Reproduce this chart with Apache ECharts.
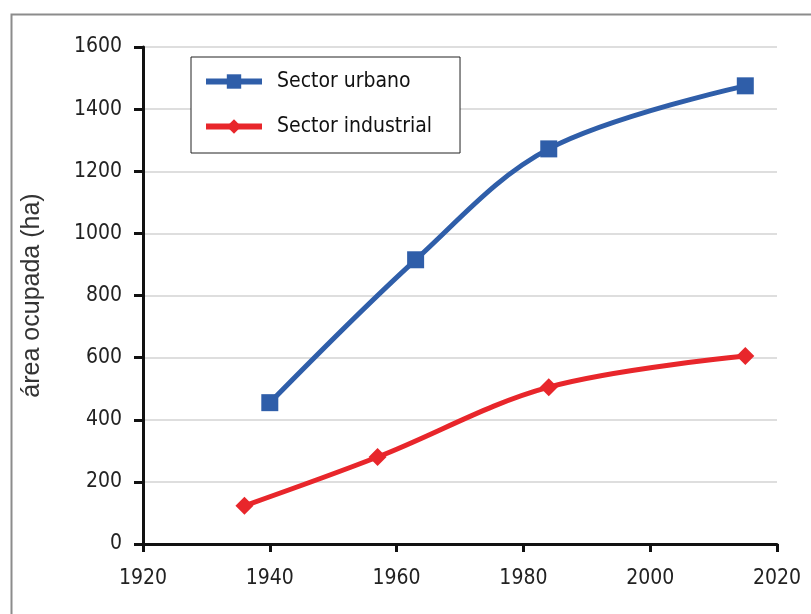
<!DOCTYPE html>
<html>
<head>
<meta charset="utf-8">
<script src="https://cdn.jsdelivr.net/npm/echarts@6/dist/echarts.min.js"></script>
<style>
  html, body { margin: 0; padding: 0; background: #fff; }
  #chart { width: 811px; height: 614px; }
</style>
</head>
<body>
<div id="chart"></div>
<script>
// Occupied area (ha) by sector over time
const urbanYears = [1940, 1963, 1984, 2015];
const urbanArea = [455, 915, 1272, 1475];
const industrialYears = [1936, 1957, 1984, 2015];
const industrialArea = [123, 280, 505, 605];
const seriesNames = ['Sector urbano', 'Sector industrial'];
const yAxisTitle = 'área ocupada (ha)';

const tickFont = "'Liberation Sans Narrow', 'DejaVu Sans Condensed', 'Liberation Sans', sans-serif";
const plain = v => String(v);

const chart = echarts.init(document.getElementById('chart'), null, { renderer: 'canvas' });

chart.setOption({
  animation: false,
  backgroundColor: '#ffffff',
  graphic: [{
    type: 'rect',
    left: 9, top: 12,
    shape: { x: 0, y: 0, width: 900, height: 700 },
    style: { fill: 'none', stroke: '#8c8c8c', lineWidth: 2 },
    z: -1
  }],
  grid: { left: 143, right: 34, top: 47, bottom: 70, containLabel: false },
  legend: {
    left: 191, top: 57,
    orient: 'vertical',
    backgroundColor: '#fff',
    borderColor: '#222',
    borderWidth: 1,
    padding: [14, 28, 16, 12],
    itemGap: 24,
    itemWidth: 56,
    itemHeight: 18,
    lineStyle: { width: 6 },
    textStyle: { fontFamily: tickFont, fontSize: 21, color: '#111', padding: [0, 0, 0, 10] },
    data: seriesNames
  },
  xAxis: {
    type: 'value', min: 1920, max: 2020, interval: 20,
    axisLine: { show: true, lineStyle: { color: '#111', width: 3 } },
    axisTick: { show: true, length: 8, lineStyle: { color: '#111', width: 3 } },
    axisLabel: { fontFamily: tickFont, fontSize: 21, color: '#222', margin: 24, formatter: plain },
    splitLine: { show: false }
  },
  yAxis: {
    type: 'value', min: 0, max: 1600, interval: 200,
    name: yAxisTitle,
    nameLocation: 'middle',
    nameGap: 98,
    nameTextStyle: { fontFamily: "'Liberation Sans', Arial, sans-serif", fontSize: 25, color: '#333' },
    axisLine: { show: true, lineStyle: { color: '#111', width: 3 } },
    axisTick: { show: true, length: 9, lineStyle: { color: '#111', width: 3 } },
    axisLabel: { fontFamily: tickFont, fontSize: 21, color: '#222', margin: 21, formatter: plain },
    splitLine: { show: true, lineStyle: { color: '#dedede', width: 2 } }
  },
  series: [
    {
      name: seriesNames[0],
      type: 'line',
      smooth: 0.35,
      data: urbanYears.map((y, i) => [y, urbanArea[i]]),
      symbol: 'rect',
      symbolSize: 17,
      lineStyle: { color: '#2f5ea9', width: 5 },
      itemStyle: { color: '#2f5ea9' },
      z: 3
    },
    {
      name: seriesNames[1],
      type: 'line',
      smooth: 0.35,
      data: industrialYears.map((y, i) => [y, industrialArea[i]]),
      symbol: 'diamond',
      symbolSize: 18,
      lineStyle: { color: '#e8262b', width: 5 },
      itemStyle: { color: '#e8262b' },
      z: 3
    }
  ]
});
</script>
</body>
</html>
